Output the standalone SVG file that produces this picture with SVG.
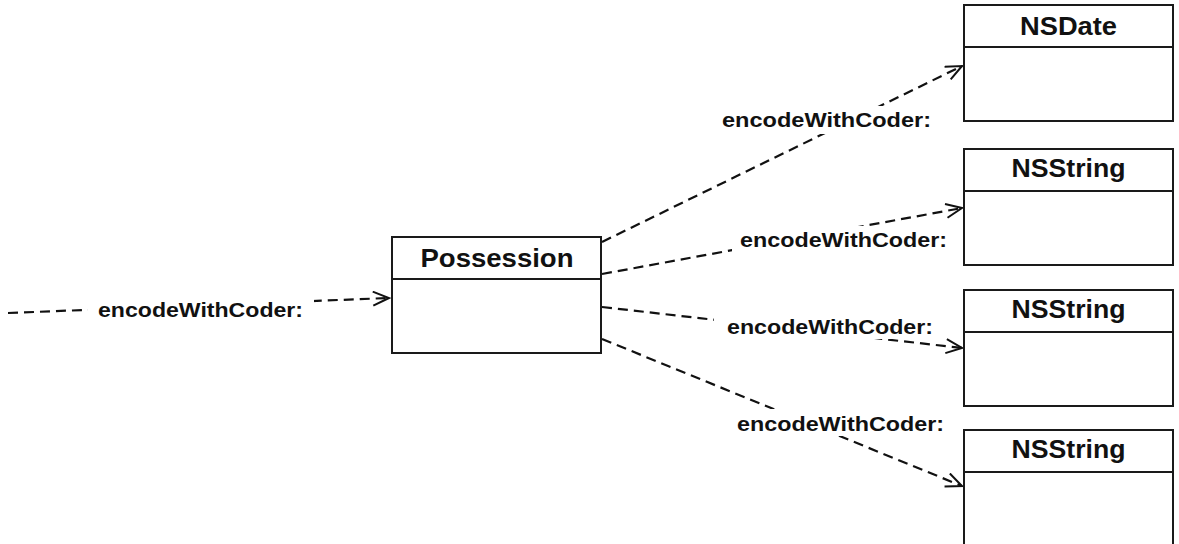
<svg xmlns="http://www.w3.org/2000/svg" width="1179" height="544" viewBox="0 0 1179 544">
<style>
.box{fill:#fff;stroke:#1a1a1a;stroke-width:2}
.div{stroke:#1a1a1a;stroke-width:2}
.title{font-family:"Liberation Sans",Arial,sans-serif;font-weight:bold;font-size:25px;fill:#111;text-anchor:middle}
.conn{fill:none;stroke:#111;stroke-width:2.2;stroke-dasharray:10 6}
.bg{fill:#fff}
.lbl{font-family:"Liberation Sans",Arial,sans-serif;font-weight:bold;font-size:21px;fill:#111}
</style>
<defs>
<marker id="arr" markerUnits="userSpaceOnUse" markerWidth="20" markerHeight="18" refX="17" refY="8" orient="auto">
<path d="M1,1 L17,8 L1,15" fill="none" stroke="#111" stroke-width="2"/>
</marker>
</defs>
<rect width="1179" height="544" fill="#fff"/>
<g id="connectors">
<line class="conn" x1="8" y1="313" x2="389" y2="298" marker-end="url(#arr)"/>
<line class="conn" x1="602" y1="242" x2="962" y2="66" marker-end="url(#arr)"/>
<line class="conn" x1="602" y1="274" x2="962" y2="208" marker-end="url(#arr)"/>
<line class="conn" x1="602" y1="307" x2="962" y2="348" marker-end="url(#arr)"/>
<line class="conn" x1="602" y1="339" x2="962" y2="486" marker-end="url(#arr)"/>
<rect class="bg" x="88" y="297" width="226" height="27"/>
<rect class="bg" x="716" y="106" width="222" height="28"/>
<rect class="bg" x="732" y="226" width="222" height="28"/>
<rect class="bg" x="714" y="314" width="226" height="25"/>
<rect class="bg" x="730" y="409" width="220" height="27"/>
<text class="lbl" x="98" y="317" textLength="205" lengthAdjust="spacingAndGlyphs">encodeWithCoder:</text>
<text class="lbl" x="722" y="127" textLength="209" lengthAdjust="spacingAndGlyphs">encodeWithCoder:</text>
<text class="lbl" x="740" y="247" textLength="207" lengthAdjust="spacingAndGlyphs">encodeWithCoder:</text>
<text class="lbl" x="727" y="334" textLength="206" lengthAdjust="spacingAndGlyphs">encodeWithCoder:</text>
<text class="lbl" x="737" y="431" textLength="207" lengthAdjust="spacingAndGlyphs">encodeWithCoder:</text>
</g>
<g id="possession">
<rect class="box" x="392" y="237" width="209" height="116"/>
<line class="div" x1="392" y1="279" x2="601" y2="279"/>
<text class="title" x="497" y="267" textLength="153" lengthAdjust="spacingAndGlyphs">Possession</text>
</g>
<g id="nsdate">
<rect class="box" x="964" y="5" width="209" height="116"/>
<line class="div" x1="964" y1="47" x2="1173" y2="47"/>
<text class="title" x="1068.5" y="35" textLength="97" lengthAdjust="spacingAndGlyphs">NSDate</text>
</g>
<g id="nsstring1">
<rect class="box" x="964" y="149" width="209" height="116"/>
<line class="div" x1="964" y1="191" x2="1173" y2="191"/>
<text class="title" x="1068.5" y="177" textLength="114" lengthAdjust="spacingAndGlyphs">NSString</text>
</g>
<g id="nsstring2">
<rect class="box" x="964" y="290" width="209" height="116"/>
<line class="div" x1="964" y1="332" x2="1173" y2="332"/>
<text class="title" x="1068.5" y="318" textLength="114" lengthAdjust="spacingAndGlyphs">NSString</text>
</g>
<g id="nsstring3">
<rect class="box" x="964" y="430" width="209" height="120"/>
<line class="div" x1="964" y1="472" x2="1173" y2="472"/>
<text class="title" x="1068.5" y="458" textLength="114" lengthAdjust="spacingAndGlyphs">NSString</text>
</g>
</svg>
